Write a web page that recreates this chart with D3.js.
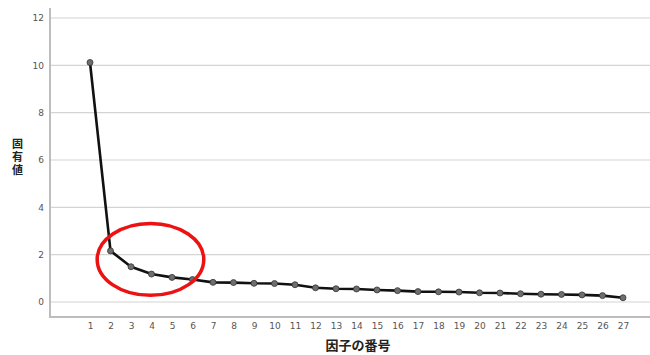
<!DOCTYPE html>
<html>
<head>
<meta charset="utf-8">
<script src="https://cdn.jsdelivr.net/npm/d3@7"></script>
<style>
  html, body { margin: 0; padding: 0; background: #fff; }
  svg { display: block; }
</style>
</head>
<body>
<svg id="chart" width="650" height="355"></svg>
<script>
// Scree plot: eigenvalue of each factor
const factors = d3.range(1, 28);
const eigenvalues = [10.12, 2.16, 1.49, 1.18, 1.04, 0.95, 0.83, 0.82, 0.79, 0.78,
                     0.73, 0.60, 0.56, 0.55, 0.51, 0.48, 0.44, 0.43, 0.42, 0.39,
                     0.38, 0.35, 0.33, 0.32, 0.30, 0.27, 0.18];
const yTicks = [0, 2, 4, 6, 8, 10, 12];
const xTitle = "因子の番号";
const yTitle = "固有値";
// Highlight ring around the elbow (centre in data units, radii in data units)
const highlight = { cx: 3.95, cy: 1.8, rx: 2.6, ry: 1.52 };

const svg = d3.select("#chart");
const frame = { left: 50, top: 8, bottom: 317, right: 650 };

const x = d3.scaleLinear().domain([1, 27]).range([90, 623]);
const y = d3.scaleLinear().domain([0, 12]).range([302, 18]);

// horizontal grid
svg.append("g")
  .selectAll("line")
  .data(yTicks)
  .join("line")
  .attr("x1", frame.left).attr("x2", frame.right)
  .attr("y1", d => y(d)).attr("y2", d => y(d))
  .attr("stroke", "#d4d4d4").attr("stroke-width", 1.2);

// y axis
const yAxis = svg.append("g")
  .attr("transform", `translate(${frame.left},0)`)
  .call(d3.axisLeft(y).tickValues(yTicks).tickSize(0).tickPadding(6));
yAxis.select(".domain").remove();
yAxis.selectAll("text")
  .attr("fill", "#555").style("font-family", "'DejaVu Sans', sans-serif").style("font-size", "9px");

// x axis
const xAxis = svg.append("g")
  .attr("transform", `translate(0,${frame.bottom})`)
  .call(d3.axisBottom(x).tickValues(factors).tickSize(0).tickPadding(6).tickFormat(d3.format("d")));
xAxis.select(".domain").remove();
xAxis.selectAll("text")
  .attr("fill", "#555").style("font-family", "'DejaVu Sans', sans-serif").style("font-size", "9px");

// frame lines
svg.append("line").attr("x1", frame.left).attr("x2", frame.left).attr("y1", frame.top).attr("y2", frame.bottom)
  .attr("stroke", "#bdbdbd").attr("stroke-width", 2);
svg.append("line").attr("x1", frame.left - 1).attr("x2", frame.right).attr("y1", frame.bottom).attr("y2", frame.bottom)
  .attr("stroke", "#bdbdbd").attr("stroke-width", 2);

// eigenvalue line
const line = d3.line().x((d, i) => x(factors[i])).y(d => y(d));
svg.append("path")
  .datum(eigenvalues)
  .attr("d", line)
  .attr("fill", "none").attr("stroke", "#111").attr("stroke-width", 2.6)
  .attr("stroke-linejoin", "round");

svg.append("g")
  .selectAll("circle")
  .data(eigenvalues)
  .join("circle")
  .attr("cx", (d, i) => x(factors[i]))
  .attr("cy", d => y(d))
  .attr("r", 3)
  .attr("fill", "#6e6e6e").attr("stroke", "#333").attr("stroke-width", 0.8);

// highlight ring
svg.append("ellipse")
  .attr("cx", x(highlight.cx)).attr("cy", y(highlight.cy))
  .attr("rx", x(1 + highlight.rx) - x(1)).attr("ry", y(0) - y(highlight.ry))
  .attr("fill", "none").attr("stroke", "#ee1111").attr("stroke-width", 3.5);

// titles
svg.append("text")
  .attr("x", 358).attr("y", 350)
  .attr("text-anchor", "middle")
  .style("font-family", "'Noto Sans CJK JP', sans-serif").style("font-size", "13px").style("font-weight", "bold")
  .attr("fill", "#222")
  .text(xTitle);

// vertical (upright, stacked) y-axis title
svg.append("text")
  .attr("x", 17.5).attr("y", 138)
  .style("writing-mode", "vertical-rl")
  .style("text-orientation", "upright")
  .style("letter-spacing", "2px")
  .style("font-family", "'Noto Sans CJK JP', sans-serif").style("font-size", "11px").style("font-weight", "bold")
  .attr("fill", "#222")
  .text(yTitle);
</script>
</body>
</html>
